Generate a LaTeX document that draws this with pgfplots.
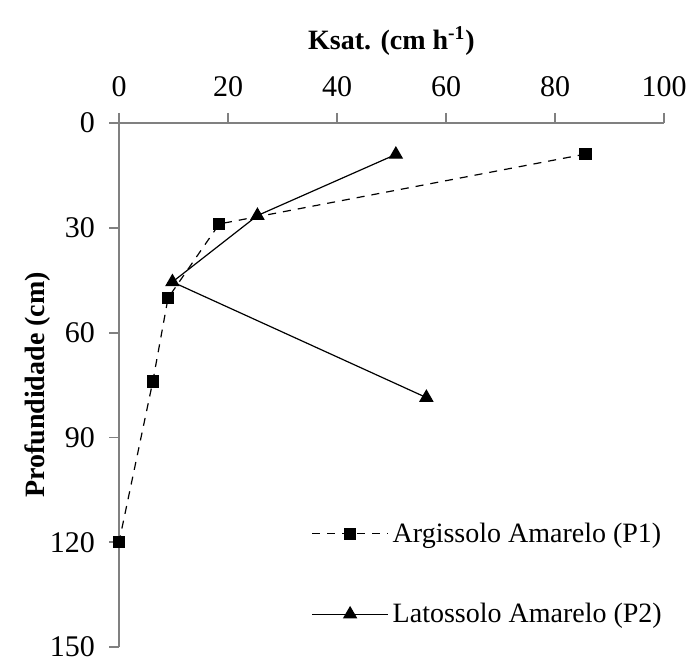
\documentclass[border=0pt]{standalone}
\usepackage{fontspec}
\setmainfont{Liberation Serif}
\usepackage{pgfplots}
\pgfplotsset{compat=1.18}
\definecolor{axgray}{RGB}{128,128,128}
\newcommand{\fs}{\fontsize{14}{16.5}\selectfont}
\newcommand{\ft}{\fontsize{15}{17.5}\selectfont}
\begin{document}
\begin{tikzpicture}
\begin{axis}[
  name=ax,
  scale only axis,
  width=272.5pt, height=262pt,
  xmin=0, xmax=100, ymin=0, ymax=150,
  y dir=reverse,
  axis x line*=top, axis y line*=left,
  axis line style={axgray, line width=0.9pt, -},
  xtick={0,20,...,100}, ytick={0,30,...,150},
  minor tick num=0,
  tick align=outside, major tick length=5pt,
  tick style={axgray, line width=0.9pt},
  /pgf/number format/assume math mode=true,
  ticklabel style={font=\ft},
  xticklabel style={yshift=4.5pt},
  yticklabel style={xshift=-3.5pt},
  title={\textbf{Ksat. (cm h\textsuperscript{-1})}},
  title style={font=\fs, yshift=24pt},
  ylabel={\textbf{Profundidade (cm)}},
  ylabel style={font=\fs, yshift=-7pt},
  clip=false,
  legend cell align=left,
  legend style={draw=none, fill=none, font=\fs, at={(axis cs:101.5,112)}, anchor=north east, row sep=25pt,
    /tikz/every even column/.append style={column sep=0pt}},
  legend image code/.code={\draw[mark repeat=2,mark phase=2,#1] plot coordinates {(0pt,0pt) (19pt,0pt) (38pt,0pt)};},
]
\addplot[black, line width=0.6pt, dash pattern=on 4pt off 3.5pt, mark=square*, mark size=2.75pt, mark options={solid}]
  coordinates {(85.6,8.9) (18.4,28.9) (9.0,50.1) (6.2,74.0) (0,120)};
\addlegendentry{Argissolo Amarelo (P1)}
\addplot[black, line width=0.6pt, mark=triangle*, mark size=3.6pt, mark options={solid}]
  coordinates {(50.8,9.0) (25.4,26.5) (9.8,45.5) (56.4,78.6)};
\addlegendentry{Latossolo Amarelo (P2)}
\end{axis}
\pgfresetboundingbox
\path ([xshift=-59.5pt,yshift=61.5pt]ax.north west) rectangle ([xshift=13pt,yshift=-7.5pt]ax.south east);
\end{tikzpicture}
\end{document}
